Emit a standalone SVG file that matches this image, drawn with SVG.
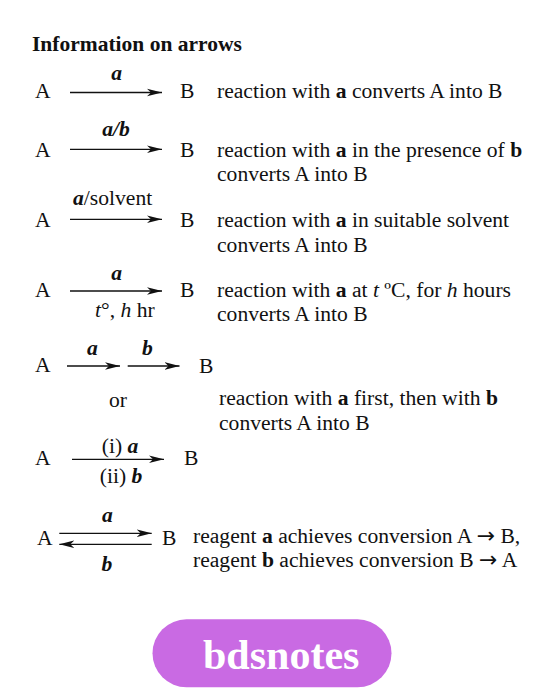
<svg xmlns="http://www.w3.org/2000/svg" width="558" height="700" viewBox="0 0 558 700">
<style>
.t{font-weight:bold}
.l{font-weight:bold;font-style:italic}
.m{text-anchor:middle}
.b{font-weight:bold}
.i{font-style:italic}
.arr{font-family:'DejaVu Sans',sans-serif;font-size:22px}
.ar{stroke:#111;stroke-width:1.3;fill:none}
</style>
<defs>
<marker id="head" markerUnits="userSpaceOnUse" markerWidth="16" markerHeight="9" refX="15" refY="4.5" orient="auto">
<path d="M0,0.7 L15,4.5 L0,8.3 L4,4.5 Z" fill="#111"/>
</marker>
</defs>
<rect width="558" height="700" fill="#ffffff"/>
<g font-family="Liberation Serif, Times New Roman, serif" font-size="21.6" fill="#111">
<text id="title" class="t" x="32" y="50.5" font-size="21.5">Information on arrows</text>

<g id="connectors">
<line class="ar" x1="70" y1="92.5" x2="162" y2="92.5" marker-end="url(#head)"/>
<line class="ar" x1="70" y1="149.3" x2="162" y2="149.3" marker-end="url(#head)"/>
<line class="ar" x1="70" y1="219.3" x2="162" y2="219.3" marker-end="url(#head)"/>
<line class="ar" x1="70" y1="291" x2="162" y2="291" marker-end="url(#head)"/>
<line class="ar" x1="67" y1="366" x2="120" y2="366" marker-end="url(#head)"/>
<line class="ar" x1="127.7" y1="366" x2="179.5" y2="366" marker-end="url(#head)"/>
<line class="ar" x1="72" y1="459.3" x2="164" y2="459.3" marker-end="url(#head)"/>
<line class="ar" x1="59.3" y1="533.3" x2="151.7" y2="533.3" marker-end="url(#head)"/>
<line class="ar" x1="151.7" y1="544.3" x2="59.3" y2="544.3" marker-end="url(#head)"/>
</g>

<g id="row1">
<text x="35" y="98">A</text>
<text class="l m" x="116.7" y="80">a</text>
<text x="180" y="98">B</text>
<text x="217" y="98">reaction with <tspan class="b">a</tspan> converts A into B</text>
</g>

<g id="row2">
<text x="35" y="157">A</text>
<text class="l m" x="116" y="136">a/b</text>
<text x="180" y="157">B</text>
<text x="217" y="157">reaction with <tspan class="b">a</tspan> in the presence of <tspan class="b">b</tspan></text>
<text x="217" y="181">converts A into B</text>
</g>

<g id="row3">
<text x="35" y="227">A</text>
<text x="73" y="205"><tspan class="l">a</tspan>/solvent</text>
<text x="180" y="227">B</text>
<text x="217" y="227">reaction with <tspan class="b">a</tspan> in suitable solvent</text>
<text x="217" y="251.5">converts A into B</text>
</g>

<g id="row4">
<text x="35" y="297">A</text>
<text class="l m" x="116.7" y="280">a</text>
<text x="95" y="317"><tspan class="i">t</tspan>°, <tspan class="i">h</tspan> hr</text>
<text x="180" y="297">B</text>
<text x="217" y="297">reaction with <tspan class="b">a</tspan> at <tspan class="i">t</tspan> ºC, for <tspan class="i">h</tspan> hours</text>
<text x="217" y="321">converts A into B</text>
</g>

<g id="row5">
<text x="35" y="372">A</text>
<text class="l m" x="92.3" y="355">a</text>
<text class="l m" x="147.3" y="355">b</text>
<text x="199" y="373">B</text>
<text class="m" x="118" y="407">or</text>
<text x="219" y="405">reaction with <tspan class="b">a</tspan> first, then with <tspan class="b">b</tspan></text>
<text x="219" y="429.5">converts A into B</text>
</g>

<g id="row6">
<text x="35" y="465">A</text>
<text class="m" x="120" y="453">(i) <tspan class="l">a</tspan></text>
<text class="m" x="121" y="483">(ii) <tspan class="l">b</tspan></text>
<text x="184" y="465">B</text>
</g>

<g id="row7">
<text x="37" y="545">A</text>
<text class="l m" x="107.3" y="522">a</text>
<text class="l m" x="107" y="571">b</text>
<text x="162" y="545">B</text>
<text x="193" y="543">reagent <tspan class="b">a</tspan> achieves conversion A <tspan class="arr">→</tspan> B,</text>
<text x="193" y="567">reagent <tspan class="b">b</tspan> achieves conversion B <tspan class="arr">→</tspan> A</text>
</g>

<g id="badge">
<rect x="152.5" y="619.3" width="239" height="68" rx="34" ry="34" fill="#c96ae3"/>
<text x="203" y="669.3" font-size="42" font-weight="bold" fill="#ffffff">bdsnotes</text>
</g>
</g>
</svg>
